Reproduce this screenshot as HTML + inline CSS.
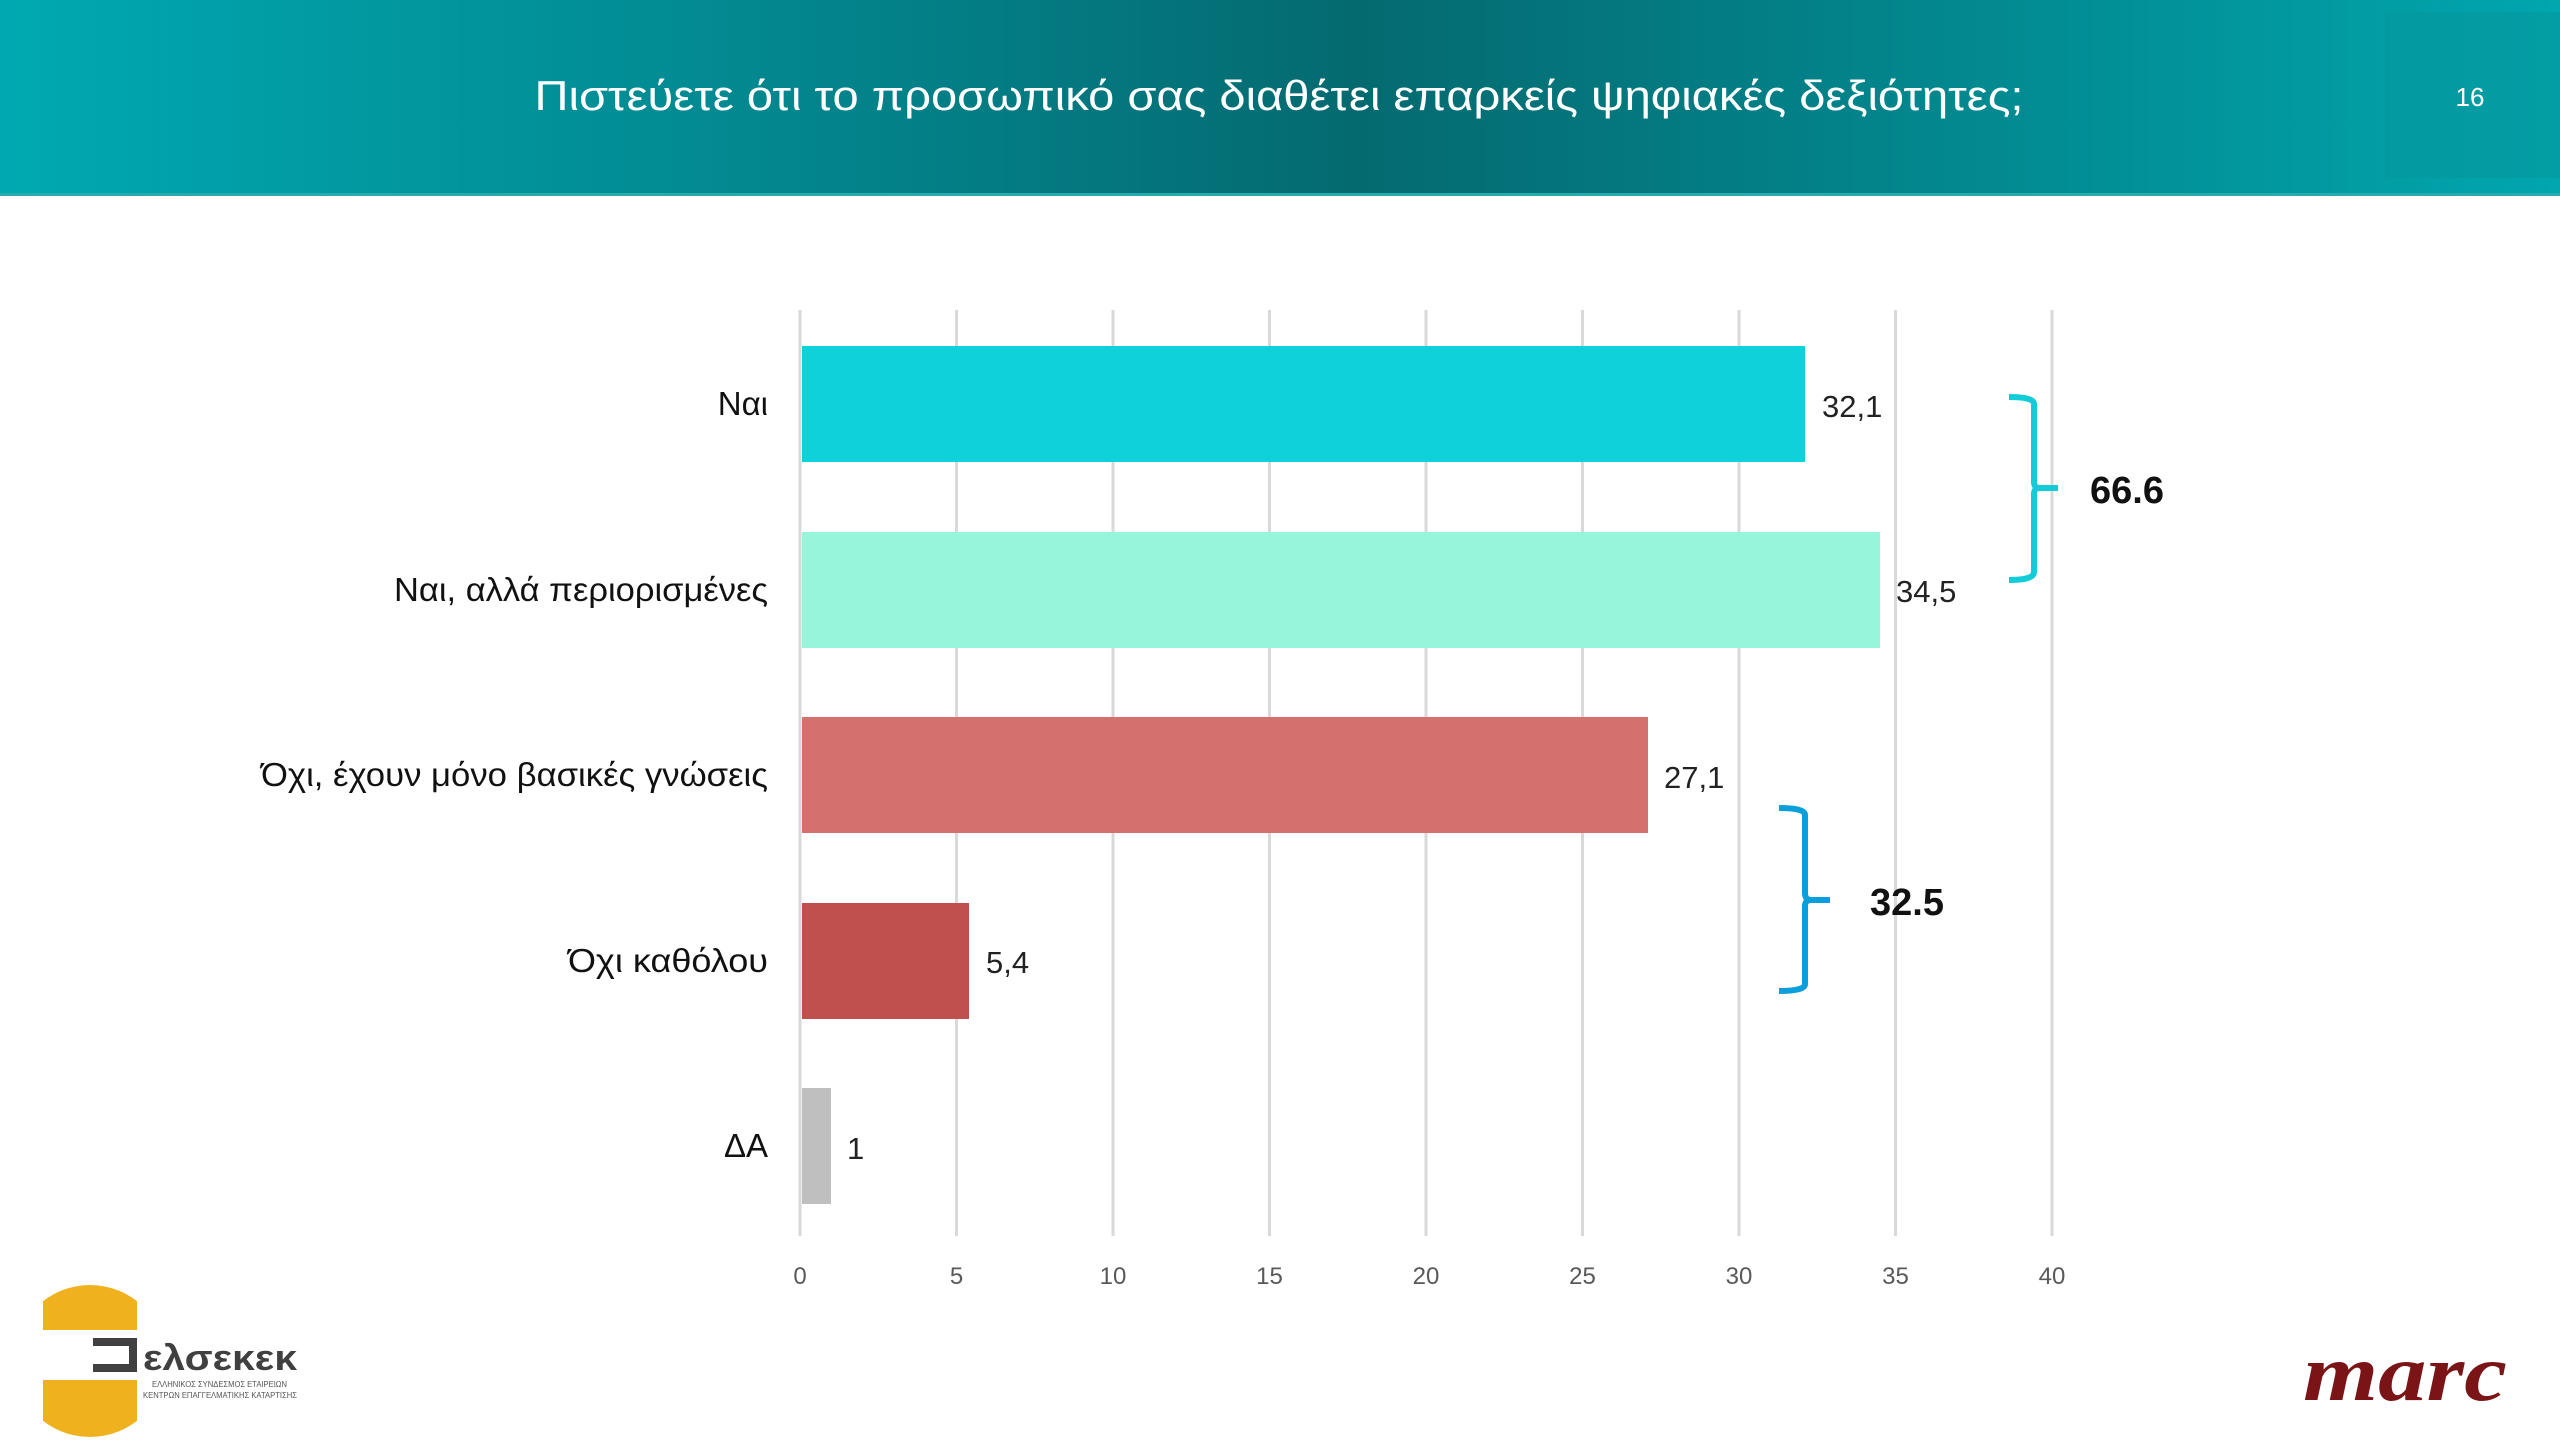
<!DOCTYPE html>
<html><head><meta charset="utf-8"><style>html,body{margin:0;padding:0;background:#fff}svg{display:block}</style></head>
<body>
<svg width="2560" height="1440" viewBox="0 0 2560 1440" xmlns="http://www.w3.org/2000/svg" font-family="'Liberation Sans', 'Noto Sans CJK SC', sans-serif">
<defs>
<linearGradient id="hg" x1="0" x2="1" y1="0" y2="0">
<stop offset="0" stop-color="#00a9b1"/>
<stop offset="0.3" stop-color="#03878f"/>
<stop offset="0.53" stop-color="#046a70"/>
<stop offset="0.75" stop-color="#03868d"/>
<stop offset="1" stop-color="#01a6ae"/>
</linearGradient>
<clipPath id="cc"><rect x="43" y="1280" width="94" height="160"/></clipPath>
</defs>
<rect x="0" y="0" width="2560" height="196" fill="url(#hg)"/>
<rect x="2385" y="12" width="175" height="166" fill="#05989f" opacity="0.6"/>
<rect x="0" y="193" width="2560" height="3" fill="#2aa9ae"/>
<text x="1279" y="110" font-size="42" fill="#fff" text-anchor="middle" textLength="1489" lengthAdjust="spacingAndGlyphs">Πιστεύετε ότι το προσωπικό σας διαθέτει επαρκείς ψηφιακές δεξιότητες;</text>
<text x="2470" y="106" font-size="26" fill="#fff" text-anchor="middle">16</text>

<g stroke="#d9d9d9" stroke-width="3">
<line x1="800" y1="310" x2="800" y2="1236"/>
<line x1="956.5" y1="310" x2="956.5" y2="1236"/>
<line x1="1113" y1="310" x2="1113" y2="1236"/>
<line x1="1269.5" y1="310" x2="1269.5" y2="1236"/>
<line x1="1426" y1="310" x2="1426" y2="1236"/>
<line x1="1582.5" y1="310" x2="1582.5" y2="1236"/>
<line x1="1739" y1="310" x2="1739" y2="1236"/>
<line x1="1895.5" y1="310" x2="1895.5" y2="1236"/>
<line x1="2052" y1="310" x2="2052" y2="1236"/>
</g>
<g font-size="24" fill="#595959" text-anchor="middle">
<text x="800" y="1284">0</text><text x="956.5" y="1284">5</text><text x="1113" y="1284">10</text><text x="1269.5" y="1284">15</text><text x="1426" y="1284">20</text><text x="1582.5" y="1284">25</text><text x="1739" y="1284">30</text><text x="1895.5" y="1284">35</text><text x="2052" y="1284">40</text>
</g>

<rect x="802" y="346" width="1003" height="116" fill="#0ed1d9"/>
<rect x="802" y="532" width="1078" height="116" fill="#96f5da"/>
<rect x="802" y="717" width="846" height="116" fill="#d4706d"/>
<rect x="802" y="903" width="167" height="116" fill="#c0504d"/>
<rect x="802" y="1088" width="29" height="116" fill="#bfbfbf"/>

<g font-size="33" fill="#111" text-anchor="end">
<text x="768" y="415">Ναι</text>
<text x="768" y="601" textLength="374" lengthAdjust="spacingAndGlyphs">Ναι, αλλά περιορισμένες</text>
<text x="768" y="786" textLength="507" lengthAdjust="spacingAndGlyphs">Όχι, έχουν μόνο βασικές γνώσεις</text>
<text x="768" y="972" textLength="200" lengthAdjust="spacingAndGlyphs">Όχι καθόλου</text>
<text x="768" y="1157">ΔΑ</text>
</g>
<g font-size="31" fill="#222">
<text x="1822" y="417">32,1</text>
<text x="1896" y="602">34,5</text>
<text x="1664" y="788">27,1</text>
<text x="986" y="973">5,4</text>
<text x="847" y="1159">1</text>
</g>

<path d="M2009 397 Q2034 397 2034 404 L2034 482 Q2034 488 2040 488 L2058 488 M2040 488 Q2034 488 2034 494 L2034 572 Q2034 580 2009 580" fill="none" stroke="#12ccd8" stroke-width="6"/>
<text x="2090" y="503" font-size="38" font-weight="bold" fill="#111">66.6</text>
<path d="M1779 808 Q1805 808 1805 815 L1805 893 Q1805 900 1811 900 L1830 900 M1811 900 Q1805 900 1805 906 L1805 984 Q1805 991 1779 991" fill="none" stroke="#0a9fdb" stroke-width="6"/>
<text x="1870" y="915" font-size="38" font-weight="bold" fill="#111">32.5</text>

<!-- logo -->
<circle cx="90" cy="1361" r="76" fill="#efb21e" clip-path="url(#cc)"/>
<rect x="30" y="1330" width="120" height="50" fill="#fff"/>
<path d="M93 1338 L137 1338 L137 1372 L93 1372 L93 1364 L129 1364 L129 1346 L93 1346 Z" fill="#404040"/>
<text x="143" y="1370" font-size="36" font-weight="bold" fill="#404040" textLength="154" lengthAdjust="spacingAndGlyphs">ελσεκεκ</text>
<text x="152" y="1387" font-size="8" fill="#555" textLength="135" lengthAdjust="spacingAndGlyphs">ΕΛΛΗΝΙΚΟΣ ΣΥΝΔΕΣΜΟΣ ΕΤΑΙΡΕΙΩΝ</text>
<text x="143" y="1398" font-size="8" fill="#555" textLength="154" lengthAdjust="spacingAndGlyphs">ΚΕΝΤΡΩΝ ΕΠΑΓΓΕΛΜΑΤΙΚΗΣ ΚΑΤΑΡΤΙΣΗΣ</text>

<text x="2303" y="1400" font-family="'Liberation Serif', serif" font-style="italic" font-weight="bold" font-size="80" fill="#7a1416" textLength="204" lengthAdjust="spacingAndGlyphs">marc</text>
</svg>
</body></html>
